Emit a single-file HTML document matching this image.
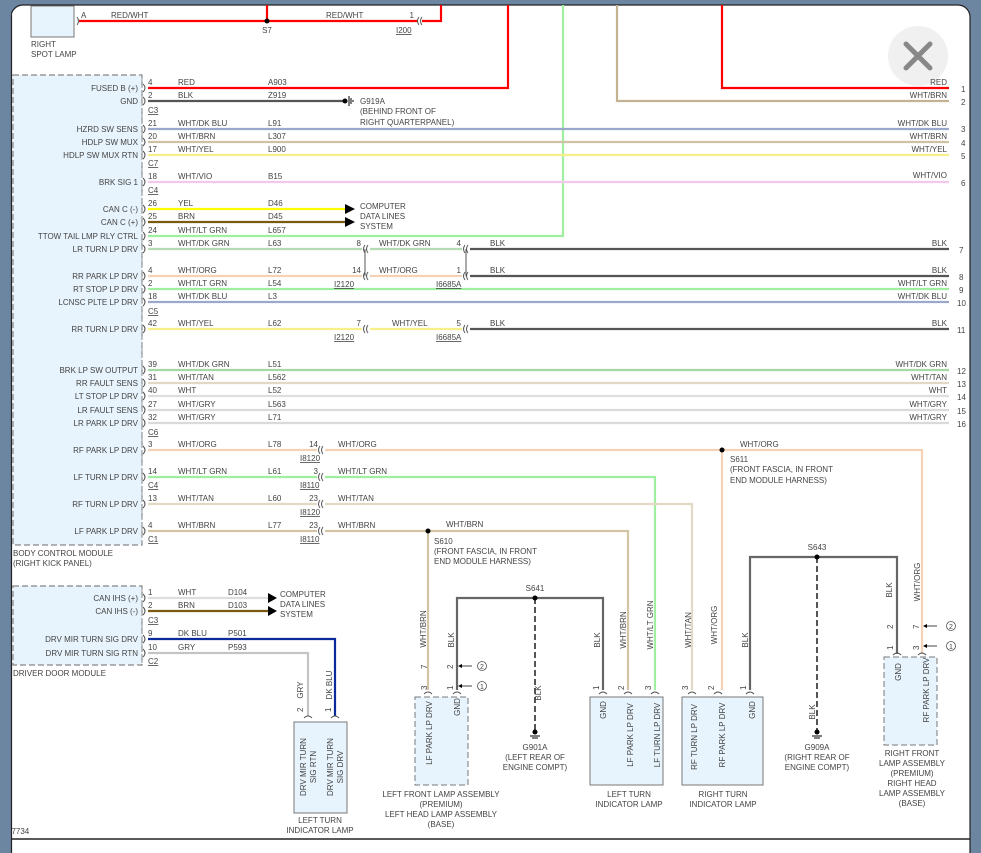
<!DOCTYPE html>
<html><head><meta charset="utf-8"><style>
html,body{margin:0;padding:0;background:#6c85a1;width:981px;height:853px;overflow:hidden}
svg{display:block}
text{font-family:"Liberation Sans",sans-serif;font-size:8px;fill:#444}
.u{text-decoration:underline}
.e{text-anchor:end}
.m{text-anchor:middle}
.w{fill:none;stroke-width:2.2}
.c{fill:none;stroke:#555;stroke-width:1}
</style></head><body>
<svg width="981" height="853" viewBox="0 0 981 853">
<rect x="11" y="5" width="959" height="870" rx="12" fill="#fff" stroke="#222" stroke-width="1.2"/>
<line x1="11" y1="839" x2="970" y2="839" stroke="#222" stroke-width="1.5"/>

<!-- close button -->
<circle cx="918" cy="56" r="30" fill="#f0f0f0"/>
<path d="M906 44 L930 68 M930 44 L906 68" stroke="#888" stroke-width="5" stroke-linecap="round"/>

<!-- spot lamp -->
<rect x="31" y="6" width="43" height="31" fill="#e8f4fd" stroke="#777"/>
<text x="31" y="47">RIGHT</text><text x="31" y="57">SPOT LAMP</text>
<path d="M77 17 q3 4 0 8" class="c"/>
<text x="81" y="18">A</text>
<path d="M79 21 H418 M267 21 V5 M422 21 H441 V5" class="w" stroke="#f00"/>
<circle cx="267" cy="21" r="2.5" fill="#000"/>
<text x="267" y="33" class="m">S7</text>
<text x="111" y="18">RED/WHT</text><text x="326" y="18">RED/WHT</text>
<text x="414" y="18" class="e">1</text>
<path d="M419 17 q-3 4 0 8 M422 17 q-3 4 0 8" class="c"/>
<text x="396" y="33" class="u">I200</text>

<!-- BCM -->
<rect x="13" y="75" width="129" height="470" fill="#e8f4fd" stroke="#888" stroke-dasharray="6,3" stroke-width="1.2"/>
<text x="13" y="556">BODY CONTROL MODULE</text><text x="13" y="566">(RIGHT KICK PANEL)</text>
<rect x="13" y="586" width="129" height="79" fill="#e8f4fd" stroke="#888" stroke-dasharray="6,3" stroke-width="1.2"/>
<text x="13" y="676">DRIVER DOOR MODULE</text>

<!-- long vertical feeds -->
<path d="M508 5 V88 H148" class="w" stroke="#f00"/>
<path d="M722 5 V88 H949" class="w" stroke="#f00"/>
<path d="M617 5 V101 H949" class="w" stroke="#c3b393"/>
<path d="M563 5 V236 H148" class="w" stroke="#9ef09e"/>
<path d="M148 101 H343" class="w" stroke="#555"/>
<circle cx="345" cy="101" r="2.5" fill="#000"/>
<path d="M349 96 V106 M351 98 V104 M353 100 V102" stroke="#000" stroke-width="1"/>
<text x="360" y="104">G919A</text><text x="360" y="114">(BEHIND FRONT OF</text><text x="360" y="125">RIGHT QUARTERPANEL)</text>

<!-- straight wires -->
<g class="w">
<path d="M148 129 H949" stroke="#9aa8cc"/>
<path d="M148 142 H949" stroke="#cfc2a4"/>
<path d="M148 155 H949" stroke="#f7f08a"/>
<path d="M148 182 H949" stroke="#f2c8ec"/>
<path d="M148 209 H345" stroke="#ffff00"/>
<path d="M148 222 H345" stroke="#7a5a10"/>
<path d="M148 249 H362 M370 249 H462" stroke="#b5dcb5"/>
<path d="M470 249 H949 M470 276 H949 M470 329 H949" stroke="#555"/>
<path d="M148 276 H362 M370 276 H462" stroke="#f5d2b5"/>
<path d="M148 289 H949" stroke="#9ef09e"/>
<path d="M148 302 H949" stroke="#9aa8cc"/>
<path d="M148 329 H362 M370 329 H462" stroke="#f7f08a"/>
<path d="M148 370 H949" stroke="#a4d8a4"/>
<path d="M148 383 H949" stroke="#e2d8c6"/>
<path d="M148 396 H949" stroke="#dedede"/>
<path d="M148 410 H949" stroke="#dadada"/>
<path d="M148 423 H949" stroke="#dadada"/>
<path d="M148 450 H317 M325 450 H922 V654 M722 450 V690" stroke="#f5d2b5"/>
<path d="M148 477 H317 M325 477 H655 V690" stroke="#9ef09e"/>
<path d="M148 504 H317 M325 504 H692 V690" stroke="#e2d8c6"/>
<path d="M148 531 H317 M325 531 H628 V690 M428 531 V690" stroke="#d2c4a4"/>
<path d="M148 598 H268" stroke="#dedede"/>
<path d="M148 611 H268" stroke="#7a5a10"/>
<path d="M148 639 H335 V716" stroke="#0a2a9a"/>
<path d="M148 653 H308 V716" stroke="#c4c4c4"/>
<path d="M457 690 V598 H603 V690 M750 690 V557 H897 V654" stroke="#666"/>
</g>
<path d="M535 598 V730 M817 557 V730" stroke="#555" stroke-width="2" stroke-dasharray="6,3"/>
<circle cx="428" cy="531" r="2.5" fill="#000"/><circle cx="722" cy="450" r="2.5" fill="#000"/>
<circle cx="535" cy="598" r="2.5" fill="#000"/><circle cx="817" cy="557" r="2.5" fill="#000"/>
<circle cx="535" cy="732" r="2.5" fill="#000"/><circle cx="817" cy="732" r="2.5" fill="#000"/>
<path d="M530 736 H540 M532 738 H538 M812 736 H822 M814 738 H820" stroke="#000" stroke-width="1"/>

<!-- arrows CDL -->
<path d="M345 204 L355 209 L345 214 Z M345 217 L355 222 L345 227 Z M268 593 L277 598 L268 603 Z M268 606 L277 611 L268 616 Z" fill="#000"/>
<text x="360" y="209">COMPUTER</text><text x="360" y="219">DATA LINES</text><text x="360" y="229">SYSTEM</text>
<text x="280" y="597">COMPUTER</text><text x="280" y="607">DATA LINES</text><text x="280" y="617">SYSTEM</text>

<!-- BCM pin connectors -->
<g class="c">
<path d="M143 84 q4 4 0 8 M143 97 q4 4 0 8 M143 125 q4 4 0 8 M143 138 q4 4 0 8 M143 151 q4 4 0 8 M143 178 q4 4 0 8 M143 205 q4 4 0 8 M143 218 q4 4 0 8 M143 232 q4 4 0 8 M143 245 q4 4 0 8 M143 272 q4 4 0 8 M143 285 q4 4 0 8 M143 298 q4 4 0 8 M143 325 q4 4 0 8 M143 366 q4 4 0 8 M143 379 q4 4 0 8 M143 392 q4 4 0 8 M143 406 q4 4 0 8 M143 419 q4 4 0 8 M143 446 q4 4 0 8 M143 473 q4 4 0 8 M143 500 q4 4 0 8 M143 527 q4 4 0 8 M143 594 q4 4 0 8 M143 607 q4 4 0 8 M143 635 q4 4 0 8 M143 649 q4 4 0 8"/>
<path d="M142 78 V542 M142 588 V663" stroke="#999" stroke-dasharray="4,2"/>
<path d="M365 245 q-3 4 0 8 M368 245 q-3 4 0 8 M365 272 q-3 4 0 8 M368 272 q-3 4 0 8 M365 325 q-3 4 0 8 M368 325 q-3 4 0 8 M365 249 V276 M466 249 V276"/>
<path d="M465 245 q-3 4 0 8 M468 245 q-3 4 0 8 M465 272 q-3 4 0 8 M468 272 q-3 4 0 8 M465 325 q-3 4 0 8 M468 325 q-3 4 0 8"/>
<path d="M320 446 q-3 4 0 8 M323 446 q-3 4 0 8 M320 473 q-3 4 0 8 M323 473 q-3 4 0 8 M320 500 q-3 4 0 8 M323 500 q-3 4 0 8 M320 527 q-3 4 0 8 M323 527 q-3 4 0 8"/>
</g>

<!-- BCM labels -->
<g class="e">
<text x="138" y="91" class="e">FUSED B (+)</text><text x="138" y="104" class="e">GND</text>
<text x="138" y="132" class="e">HZRD SW SENS</text><text x="138" y="145" class="e">HDLP SW MUX</text>
<text x="138" y="158" class="e">HDLP SW MUX RTN</text><text x="138" y="185" class="e">BRK SIG 1</text>
<text x="138" y="212" class="e">CAN C (-)</text><text x="138" y="225" class="e">CAN C (+)</text>
<text x="138" y="239" class="e">TTOW TAIL LMP RLY CTRL</text><text x="138" y="252" class="e">LR TURN LP DRV</text>
<text x="138" y="279" class="e">RR PARK LP DRV</text><text x="138" y="292" class="e">RT STOP LP DRV</text>
<text x="138" y="305" class="e">LCNSC PLTE LP DRV</text><text x="138" y="332" class="e">RR TURN LP DRV</text>
<text x="138" y="373" class="e">BRK LP SW OUTPUT</text><text x="138" y="386" class="e">RR FAULT SENS</text>
<text x="138" y="399" class="e">LT STOP LP DRV</text><text x="138" y="413" class="e">LR FAULT SENS</text>
<text x="138" y="426" class="e">LR PARK LP DRV</text><text x="138" y="453" class="e">RF PARK LP DRV</text>
<text x="138" y="480" class="e">LF TURN LP DRV</text><text x="138" y="507" class="e">RF TURN LP DRV</text>
<text x="138" y="534" class="e">LF PARK LP DRV</text>
<text x="138" y="601" class="e">CAN IHS (+)</text><text x="138" y="614" class="e">CAN IHS (-)</text>
<text x="138" y="642" class="e">DRV MIR TURN SIG DRV</text><text x="138" y="656" class="e">DRV MIR TURN SIG RTN</text>
</g>

<!-- pin / color / circuit -->
<text x="148" y="85">4</text><text x="178" y="85">RED</text><text x="268" y="85">A903</text>
<text x="148" y="98">2</text><text x="178" y="98">BLK</text><text x="268" y="98">Z919</text>
<text x="148" y="113" class="u">C3</text>
<text x="148" y="126">21</text><text x="178" y="126">WHT/DK BLU</text><text x="268" y="126">L91</text>
<text x="148" y="139">20</text><text x="178" y="139">WHT/BRN</text><text x="268" y="139">L307</text>
<text x="148" y="152">17</text><text x="178" y="152">WHT/YEL</text><text x="268" y="152">L900</text>
<text x="148" y="166" class="u">C7</text>
<text x="148" y="179">18</text><text x="178" y="179">WHT/VIO</text><text x="268" y="179">B15</text>
<text x="148" y="193" class="u">C4</text>
<text x="148" y="206">26</text><text x="178" y="206">YEL</text><text x="268" y="206">D46</text>
<text x="148" y="219">25</text><text x="178" y="219">BRN</text><text x="268" y="219">D45</text>
<text x="148" y="233">24</text><text x="178" y="233">WHT/LT GRN</text><text x="268" y="233">L657</text>
<text x="148" y="246">3</text><text x="178" y="246">WHT/DK GRN</text><text x="268" y="246">L63</text>
<text x="148" y="273">4</text><text x="178" y="273">WHT/ORG</text><text x="268" y="273">L72</text>
<text x="148" y="286">2</text><text x="178" y="286">WHT/LT GRN</text><text x="268" y="286">L54</text>
<text x="148" y="299">18</text><text x="178" y="299">WHT/DK BLU</text><text x="268" y="299">L3</text>
<text x="148" y="314" class="u">C5</text>
<text x="148" y="326">42</text><text x="178" y="326">WHT/YEL</text><text x="268" y="326">L62</text>
<text x="148" y="367">39</text><text x="178" y="367">WHT/DK GRN</text><text x="268" y="367">L51</text>
<text x="148" y="380">31</text><text x="178" y="380">WHT/TAN</text><text x="268" y="380">L562</text>
<text x="148" y="393">40</text><text x="178" y="393">WHT</text><text x="268" y="393">L52</text>
<text x="148" y="407">27</text><text x="178" y="407">WHT/GRY</text><text x="268" y="407">L563</text>
<text x="148" y="420">32</text><text x="178" y="420">WHT/GRY</text><text x="268" y="420">L71</text>
<text x="148" y="435" class="u">C6</text>
<text x="148" y="447">3</text><text x="178" y="447">WHT/ORG</text><text x="268" y="447">L78</text>
<text x="148" y="474">14</text><text x="178" y="474">WHT/LT GRN</text><text x="268" y="474">L61</text>
<text x="148" y="488" class="u">C4</text>
<text x="148" y="501">13</text><text x="178" y="501">WHT/TAN</text><text x="268" y="501">L60</text>
<text x="148" y="528">4</text><text x="178" y="528">WHT/BRN</text><text x="268" y="528">L77</text>
<text x="148" y="542" class="u">C1</text>
<text x="148" y="595">1</text><text x="178" y="595">WHT</text><text x="228" y="595">D104</text>
<text x="148" y="608">2</text><text x="178" y="608">BRN</text><text x="228" y="608">D103</text>
<text x="148" y="623" class="u">C3</text>
<text x="148" y="636">9</text><text x="178" y="636">DK BLU</text><text x="228" y="636">P501</text>
<text x="148" y="650">10</text><text x="178" y="650">GRY</text><text x="228" y="650">P593</text>
<text x="148" y="664" class="u">C2</text>

<!-- inline connector labels -->
<text x="361" y="246" class="e">8</text><text x="379" y="246">WHT/DK GRN</text><text x="461" y="246" class="e">4</text><text x="490" y="246">BLK</text>
<text x="361" y="273" class="e">14</text><text x="379" y="273">WHT/ORG</text><text x="461" y="273" class="e">1</text><text x="490" y="273">BLK</text>
<text x="334" y="287" class="u">I2120</text><text x="436" y="287" class="u">I6685A</text>
<text x="361" y="326" class="e">7</text><text x="392" y="326">WHT/YEL</text><text x="461" y="326" class="e">5</text><text x="490" y="326">BLK</text>
<text x="334" y="340" class="u">I2120</text><text x="436" y="340" class="u">I6685A</text>
<text x="318" y="447" class="e">14</text><text x="338" y="447">WHT/ORG</text><text x="300" y="461" class="u">I8120</text>
<text x="318" y="474" class="e">3</text><text x="338" y="474">WHT/LT GRN</text><text x="300" y="488" class="u">I8110</text>
<text x="318" y="501" class="e">23</text><text x="338" y="501">WHT/TAN</text><text x="300" y="515" class="u">I8120</text>
<text x="318" y="528" class="e">23</text><text x="338" y="528">WHT/BRN</text><text x="300" y="542" class="u">I8110</text>
<text x="446" y="527">WHT/BRN</text><text x="740" y="447">WHT/ORG</text>
<text x="434" y="544">S610</text><text x="434" y="554">(FRONT FASCIA, IN FRONT</text><text x="434" y="564">END MODULE HARNESS)</text>
<text x="730" y="462">S611</text><text x="730" y="472">(FRONT FASCIA, IN FRONT</text><text x="730" y="483">END MODULE HARNESS)</text>

<!-- right labels -->
<text x="947" y="85" class="e">RED</text><text x="961" y="92">1</text>
<text x="947" y="98" class="e">WHT/BRN</text><text x="961" y="105">2</text>
<text x="947" y="126" class="e">WHT/DK BLU</text><text x="961" y="132">3</text>
<text x="947" y="139" class="e">WHT/BRN</text><text x="961" y="146">4</text>
<text x="947" y="152" class="e">WHT/YEL</text><text x="961" y="159">5</text>
<text x="947" y="178" class="e">WHT/VIO</text><text x="961" y="186">6</text>
<text x="947" y="246" class="e">BLK</text><text x="959" y="253">7</text>
<text x="947" y="273" class="e">BLK</text><text x="959" y="280">8</text>
<text x="947" y="286" class="e">WHT/LT GRN</text><text x="959" y="293">9</text>
<text x="947" y="299" class="e">WHT/DK BLU</text><text x="957" y="306">10</text>
<text x="947" y="326" class="e">BLK</text><text x="957" y="333">11</text>
<text x="947" y="367" class="e">WHT/DK GRN</text><text x="957" y="374">12</text>
<text x="947" y="380" class="e">WHT/TAN</text><text x="957" y="387">13</text>
<text x="947" y="393" class="e">WHT</text><text x="957" y="400">14</text>
<text x="947" y="407" class="e">WHT/GRY</text><text x="957" y="414">15</text>
<text x="947" y="420" class="e">WHT/GRY</text><text x="957" y="427">16</text>

<!-- splices/grounds labels -->
<text x="535" y="591" class="m">S641</text><text x="817" y="550" class="m">S643</text>
<text x="535" y="750" class="m">G901A</text><text x="535" y="760" class="m">(LEFT REAR OF</text><text x="535" y="770" class="m">ENGINE COMPT)</text>
<text x="817" y="750" class="m">G909A</text><text x="817" y="760" class="m">(RIGHT REAR OF</text><text x="817" y="770" class="m">ENGINE COMPT)</text>

<!-- lamp boxes -->
<rect x="294" y="722" width="53" height="91" fill="#e8f4fd" stroke="#777"/>
<rect x="415" y="697" width="53" height="88" fill="#e8f4fd" stroke="#777" stroke-dasharray="6,3"/>
<rect x="590" y="697" width="73" height="88" fill="#e8f4fd" stroke="#777"/>
<rect x="682" y="697" width="81" height="88" fill="#e8f4fd" stroke="#777"/>
<rect x="884" y="657" width="53" height="88" fill="#e8f4fd" stroke="#777" stroke-dasharray="6,3"/>
<g class="c">
<path d="M304 718 q4 -4 8 0 M331 718 q4 -4 8 0 M424 694 q4 -4 8 0 M453 694 q4 -4 8 0 M599 694 q4 -4 8 0 M624 694 q4 -4 8 0 M651 694 q4 -4 8 0 M688 694 q4 -4 8 0 M714 694 q4 -4 8 0 M746 694 q4 -4 8 0 M893 655 q4 -4 8 0 M918 655 q4 -4 8 0"/>
</g>
<g stroke="#444" stroke-width="1"><path d="M460 666 H472 M460 686 H472 M925 626 H937 M925 646 H937"/></g>
<path d="M458 666 l4 -2 v4 z M458 686 l4 -2 v4 z M923 626 l4 -2 v4 z M923 646 l4 -2 v4 z" fill="#000"/>
<circle cx="482" cy="666" r="4.5" fill="none" stroke="#555" stroke-width=".8"/><text x="482" y="669" class="m" style="font-size:7px">2</text>
<circle cx="482" cy="686" r="4.5" fill="none" stroke="#555" stroke-width=".8"/><text x="482" y="689" class="m" style="font-size:7px">1</text>
<circle cx="951" cy="626" r="4.5" fill="none" stroke="#555" stroke-width=".8"/><text x="951" y="629" class="m" style="font-size:7px">2</text>
<circle cx="951" cy="646" r="4.5" fill="none" stroke="#555" stroke-width=".8"/><text x="951" y="649" class="m" style="font-size:7px">1</text>

<!-- rotated texts -->
<g>
<text transform="translate(303,712) rotate(-90)">2</text><text transform="translate(331,712) rotate(-90)">1</text>
<text transform="translate(303,690) rotate(-90)" class="m">GRY</text><text transform="translate(332,685) rotate(-90)" class="m">DK BLU</text>
<text transform="translate(306,767) rotate(-90)" class="m">DRV MIR TURN</text><text transform="translate(316,767) rotate(-90)" class="m">SIG RTN</text>
<text transform="translate(333,767) rotate(-90)" class="m">DRV MIR TURN</text><text transform="translate(343,767) rotate(-90)" class="m">SIG DRV</text>
<text transform="translate(426,629) rotate(-90)" class="m">WHT/BRN</text><text transform="translate(454,640) rotate(-90)" class="m">BLK</text>
<text transform="translate(427,669) rotate(-90)">7</text><text transform="translate(453,669) rotate(-90)">2</text>
<text transform="translate(427,690) rotate(-90)">3</text><text transform="translate(453,690) rotate(-90)">1</text>
<text transform="translate(432,733) rotate(-90)" class="m">LF PARK LP DRV</text><text transform="translate(460,707) rotate(-90)" class="m">GND</text>
<text transform="translate(541,693) rotate(-90)" class="m">BLK</text>
<text transform="translate(600,640) rotate(-90)" class="m">BLK</text><text transform="translate(626,630) rotate(-90)" class="m">WHT/BRN</text><text transform="translate(653,625) rotate(-90)" class="m">WHT/LT GRN</text>
<text transform="translate(599,690) rotate(-90)">1</text><text transform="translate(624,690) rotate(-90)">2</text><text transform="translate(651,690) rotate(-90)">3</text>
<text transform="translate(606,710) rotate(-90)" class="m">GND</text><text transform="translate(633,735) rotate(-90)" class="m">LF PARK LP DRV</text><text transform="translate(660,735) rotate(-90)" class="m">LF TURN LP DRV</text>
<text transform="translate(691,630) rotate(-90)" class="m">WHT/TAN</text><text transform="translate(717,625) rotate(-90)" class="m">WHT/ORG</text><text transform="translate(748,640) rotate(-90)" class="m">BLK</text>
<text transform="translate(688,690) rotate(-90)">3</text><text transform="translate(714,690) rotate(-90)">2</text><text transform="translate(746,690) rotate(-90)">1</text>
<text transform="translate(697,737) rotate(-90)" class="m">RF TURN LP DRV</text><text transform="translate(725,735) rotate(-90)" class="m">RF PARK LP DRV</text><text transform="translate(755,710) rotate(-90)" class="m">GND</text>
<text transform="translate(815,712) rotate(-90)" class="m">BLK</text>
<text transform="translate(892,590) rotate(-90)" class="m">BLK</text><text transform="translate(920,582) rotate(-90)" class="m">WHT/ORG</text>
<text transform="translate(893,629) rotate(-90)">2</text><text transform="translate(919,629) rotate(-90)">7</text>
<text transform="translate(893,650) rotate(-90)">1</text><text transform="translate(919,650) rotate(-90)">3</text>
<text transform="translate(901,672) rotate(-90)" class="m">GND</text><text transform="translate(929,690) rotate(-90)" class="m">RF PARK LP DRV</text>
</g>

<!-- lamp captions -->
<text x="320" y="823" class="m">LEFT TURN</text><text x="320" y="833" class="m">INDICATOR LAMP</text>
<text x="441" y="797" class="m">LEFT FRONT LAMP ASSEMBLY</text><text x="441" y="807" class="m">(PREMIUM)</text><text x="441" y="817" class="m">LEFT HEAD LAMP ASSEMBLY</text><text x="441" y="827" class="m">(BASE)</text>
<text x="629" y="797" class="m">LEFT TURN</text><text x="629" y="807" class="m">INDICATOR LAMP</text>
<text x="723" y="797" class="m">RIGHT TURN</text><text x="723" y="807" class="m">INDICATOR LAMP</text>
<text x="912" y="756" class="m">RIGHT FRONT</text><text x="912" y="766" class="m">LAMP ASSEMBLY</text><text x="912" y="776" class="m">(PREMIUM)</text><text x="912" y="786" class="m">RIGHT HEAD</text><text x="912" y="796" class="m">LAMP ASSEMBLY</text><text x="912" y="806" class="m">(BASE)</text>
<text x="7" y="834">97734</text>
<rect x="0" y="0" width="11" height="853" fill="#6c85a1"/>
<line x1="11.5" y1="15" x2="11.5" y2="853" stroke="#222" stroke-width="1.2"/>
</svg>
</body></html>
